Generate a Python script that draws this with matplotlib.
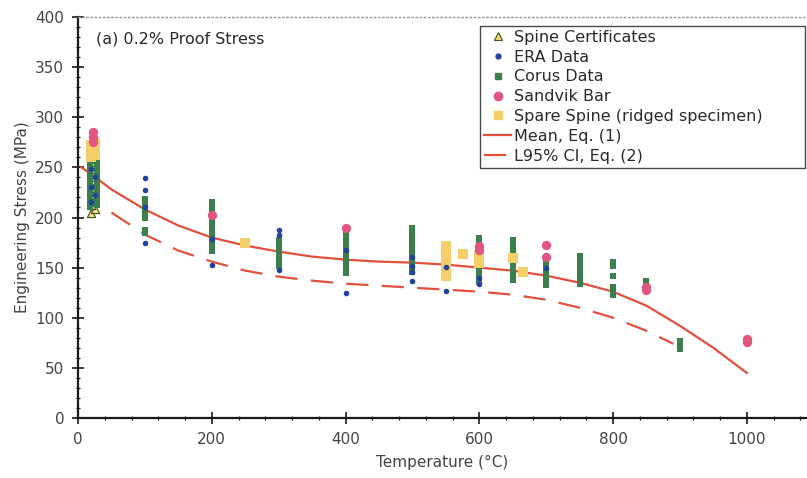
import matplotlib
matplotlib.use("Agg")
import matplotlib.pyplot as plt
from matplotlib.ticker import MultipleLocator
from matplotlib.lines import Line2D

plt.rcParams['font.family'] = ['DejaVu Sans']

# ---- data: 0.2% proof stress (MPa) vs temperature (degC) ----
spine_T = [20, 25, 20, 25, 20, 25, 20, 25, 20, 25]
spine_S = [205, 208, 212, 218, 225, 232, 240, 248, 255, 262]

era_T = [20, 25, 20, 25, 20,
         100, 100, 100, 100,
         200, 200,
         300, 300, 300,
         400, 400,
         500, 500, 500, 500,
         550, 550,
         600, 600,
         700]
era_S = [215, 222, 230, 240, 248,
         239, 227, 210, 175,
         179, 153,
         188, 183, 148,
         168, 125,
         161, 152, 146, 137,
         151, 127,
         140, 134,
         150]

corus_T = ([18] * 13 + [28] * 12 + [100] * 7 + [200] * 11 + [300] * 7 +
           [400] * 9 + [500] * 10 + [600] * 10 + [650] * 9 + [700] * 6 +
           [750] * 7 + [800] * 6 + [850] * 1 + [900] * 3)
corus_S = [210, 214, 218, 222, 226, 230, 234, 238, 242, 246, 250, 254, 258,
           212, 216, 220, 224, 228, 232, 236, 240, 244, 248, 252, 256,
           218, 214, 210, 205, 200, 188, 185,
           215, 210, 205, 200, 195, 190, 185, 180, 175, 170, 167,
           178, 175, 170, 165, 160, 155, 152,
           185, 180, 175, 170, 165, 160, 155, 150, 145,
           190, 185, 180, 175, 170, 165, 160, 155, 150, 146,
           180, 175, 170, 165, 160, 155, 150, 145, 140, 136,
           178, 173, 168, 163, 158, 153, 148, 143, 138,
           158, 153, 148, 143, 138, 133,
           162, 157, 152, 147, 142, 137, 134,
           156, 152, 142, 131, 127, 123,
           137,
           77, 73, 69]

sandvik_T = [22, 22, 22, 200, 400, 600, 600, 700, 700, 850, 850, 1000, 1000]
sandvik_S = [285, 280, 275, 203, 190, 172, 168, 173, 161, 131, 128, 79, 76]

spare_T = [20, 26, 20, 26, 20, 26, 250, 550, 550, 550, 550, 550, 550, 575,
           600, 600, 650, 665]
spare_S = [260, 262, 266, 268, 272, 274, 175, 172, 166, 160, 154, 148, 142,
           164, 162, 155, 160, 146]

mean_T = [5, 20, 50, 100, 150, 200, 250, 300, 350, 400, 450, 500, 550, 600,
          650, 700, 750, 800, 850, 900, 950, 1000]
mean_S = [250, 243, 228, 208, 192, 180, 172, 166, 161, 158, 156, 155, 153,
          150, 147, 142, 135, 126, 112, 92, 70, 45]

l95_T = [50, 100, 150, 200, 250, 300, 350, 400, 450, 500, 550, 600, 650,
         700, 750, 800, 850, 890]
l95_S = [205, 183, 167, 156, 147, 141, 137, 134, 132, 130, 128, 126, 123,
         118, 110, 100, 87, 74]

# ---- figure ----
fig = plt.figure(figsize=(8.07, 4.78), dpi=100)
ax = fig.add_axes([0.0967, 0.1255, 0.9033, 0.8389])

red = '#e0503f'
ax.plot(mean_T, mean_S, color=red, lw=1.6, zorder=2)
ax.plot(l95_T, l95_S, color=red, lw=1.6, dashes=(10, 6), zorder=2)

ax.scatter(spine_T, spine_S, marker='^', s=34, facecolor='#ece27a',
           edgecolor='#4a4a20', lw=0.8, zorder=3)
ax.scatter(corus_T, corus_S, marker='s', s=22, color='#3c7f4c', lw=0, zorder=3)
ax.scatter(spare_T, spare_S, marker='s', s=42, color='#f3cf6a', lw=0, zorder=3)
ax.scatter(era_T, era_S, marker='o', s=16, color='#2440a0', lw=0, zorder=4)
ax.scatter(sandvik_T, sandvik_S, marker='o', s=45, color='#e0567e', lw=0, zorder=4)

ax.set_xlim(0, 1090)
ax.set_ylim(0, 400)
ax.xaxis.set_major_locator(MultipleLocator(200))
ax.xaxis.set_minor_locator(MultipleLocator(40))
ax.yaxis.set_major_locator(MultipleLocator(50))
ax.yaxis.set_minor_locator(MultipleLocator(10))

for s in ('left', 'bottom'):
    ax.spines[s].set_linewidth(1.6)
    ax.spines[s].set_color('#1a1a1a')
ax.spines['right'].set_visible(False)
ax.spines['top'].set_linestyle((0, (1, 2)))
ax.spines['top'].set_color('#999999')
ax.spines['top'].set_linewidth(1.0)

ax.tick_params(which='major', direction='inout', length=8, width=1.2,
               color='#1a1a1a', labelsize=11, labelcolor='#444444', pad=6)
ax.tick_params(which='minor', direction='inout', length=3, width=0.9,
               color='#1a1a1a')

ax.set_xlabel('Temperature (°C)', fontsize=11, color='#444444', labelpad=6)
ax.set_ylabel('Engineering Stress (MPa)', fontsize=11, color='#444444', labelpad=4)

ax.text(0.024, 0.944, '(a) 0.2% Proof Stress', transform=ax.transAxes,
        fontsize=11.5, color='#2a2a2a', va='center', ha='left')

handles = [
    Line2D([], [], ls='none', marker='^', ms=6, mfc='#ece27a', mec='#4a4a20', mew=0.8),
    Line2D([], [], ls='none', marker='o', ms=3.5, color='#2440a0'),
    Line2D([], [], ls='none', marker='s', ms=4, color='#3c7f4c'),
    Line2D([], [], ls='none', marker='o', ms=6, color='#e0567e'),
    Line2D([], [], ls='none', marker='s', ms=6, color='#f3cf6a'),
    Line2D([], [], color=red, lw=1.6),
    Line2D([], [], color=red, lw=1.6, dashes=(10, 6)),
]
labels = ['Spine Certificates', 'ERA Data', 'Corus Data', 'Sandvik Bar',
          'Spare Spine (ridged specimen)', 'Mean, Eq. (1)', 'L95% CI, Eq. (2)']
leg = ax.legend(handles, labels, loc='upper left',
                bbox_to_anchor=(0.5514, 0.0, 0.4456, 0.978), mode='expand',
                fontsize=11.5, frameon=True, fancybox=False, edgecolor='#1a1a1a',
                handlelength=1.7, handletextpad=0.15, labelspacing=0.3,
                borderpad=0.25, borderaxespad=0)
leg.get_frame().set_linewidth(1.0)
for t in leg.get_texts():
    t.set_color('#2a2a2a')

fig.savefig('out.png', dpi=100)
